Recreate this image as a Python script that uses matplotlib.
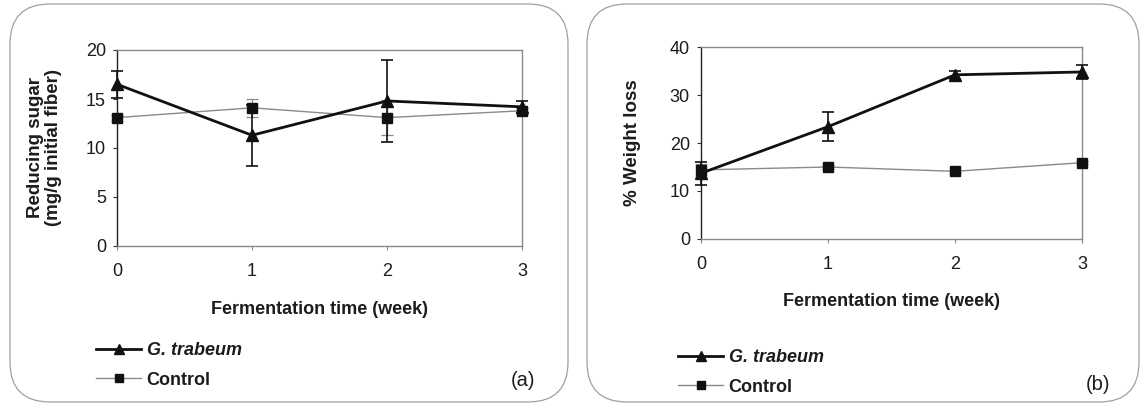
import matplotlib
matplotlib.use("Agg")
import matplotlib.pyplot as plt
from matplotlib.patches import FancyBboxPatch

plt.rcParams['font.family'] = ['Liberation Sans', 'DejaVu Sans']
plt.rcParams['font.size'] = 13

# Données
weeks = [0, 1, 2, 3]

sugar_trabeum = [16.5, 11.3, 14.8, 14.2]
sugar_trabeum_err = [1.4, 3.1, 4.15, 0.6]
sugar_control = [13.1, 14.1, 13.1, 13.8]
sugar_control_err = [0.3, 0.95, 1.8, 0.3]

loss_trabeum = [13.7, 23.4, 34.2, 34.8]
loss_trabeum_err = [2.35, 3.05, 0.9, 1.5]
loss_control = [14.4, 15.0, 14.1, 15.9]
loss_control_err = [1.2, 0.5, 0.3, 0.3]

TXT = "#1c1c1c"
GREY = "#8a8a8a"

fig = plt.figure(figsize=(11.41, 4.12), dpi=100)

# cadres arrondis
for x0, w in [(10, 558), (587, 552)]:
    box = FancyBboxPatch((x0 / 1141, 10 / 412), w / 1141, 398 / 412,
                         boxstyle="round,pad=0,rounding_size=0.035",
                         transform=fig.transFigure, fill=False,
                         edgecolor="#a0a0a0", linewidth=0.9,
                         mutation_aspect=1141 / 412)
    fig.add_artist(box)


def panel(rect, yt, yt_err, yc, yc_err, ymax, ystep, ylabel, ylab_x, leg_xy, tag, tag_xy):
    ax = fig.add_axes(rect)
    ax.errorbar(weeks, yc, yerr=yc_err, fmt="none", ecolor=GREY, capsize=4,
                elinewidth=0.9, capthick=0.9, ls=(0, (2, 1)), zorder=2, clip_on=False)
    ax.plot(weeks, yc, color=GREY, lw=1.0, marker="s", ms=6.5, mfc="#111",
            mec="#111", label="Control", zorder=3, clip_on=False)
    ax.errorbar(weeks, yt, yerr=yt_err, fmt="none", ecolor="#111", capsize=4.5,
                elinewidth=1.2, capthick=1.2, zorder=4, clip_on=False)
    ax.plot(weeks, yt, color="#111", lw=2.0, marker="^", ms=8, mfc="#111",
            mec="#111", label="G. trabeum", zorder=5, clip_on=False)

    ax.set_xlim(0, 3)
    ax.set_ylim(0, ymax)
    ax.set_xticks(weeks)
    ax.set_yticks(range(0, ymax + 1, ystep))
    ax.tick_params(axis="x", length=3, color=GREY, pad=9.5, labelcolor=TXT, labelsize=13)
    ax.tick_params(axis="y", length=3, color="#333", pad=5, labelcolor=TXT, labelsize=13)
    for s in ["top", "right", "bottom"]:
        ax.spines[s].set_color(GREY)
        ax.spines[s].set_linewidth(1.0)
    ax.spines["left"].set_color("#222")
    ax.spines["left"].set_linewidth(1.0)

    ax.set_xlabel("Fermentation time (week)", fontweight="bold", color=TXT, fontsize=13)
    ax.xaxis.set_label_coords(0.5, -0.28)
    ax.set_ylabel(ylabel, fontweight="bold", color=TXT, fontsize=13.5, linespacing=1.05)
    ax.yaxis.set_label_coords(ylab_x, 0.5)

    h, l = ax.get_legend_handles_labels()
    leg = fig.legend(h[::-1], l[::-1], loc="center left", bbox_to_anchor=leg_xy,
                     frameon=False, borderpad=0, handlelength=2.5, markerscale=0.85,
                     handletextpad=0.3, labelspacing=0.68, fontsize=13,
                     borderaxespad=0)
    leg.get_texts()[0].set_style("italic")
    for t in leg.get_texts():
        t.set_fontweight("bold")
        t.set_color(TXT)
    fig.text(tag_xy[0], tag_xy[1], tag, ha="center", va="center", color=TXT, fontsize=14.5)
    return ax


panel([117 / 1141, 1 - 246 / 412, 405 / 1141, 196 / 412],
      sugar_trabeum, sugar_trabeum_err, sugar_control, sugar_control_err,
      20, 5, "Reducing sugar\n(mg/g initial fiber)", -0.136,
      (96 / 1141, 1 - 365.5 / 412), "(a)", (523 / 1141, 1 - 381 / 412))

panel([701 / 1141, 1 - 239 / 412, 381 / 1141, 192 / 412],
      loss_trabeum, loss_trabeum_err, loss_control, loss_control_err,
      40, 10, "% Weight loss", -0.157,
      (678 / 1141, 1 - 372.5 / 412), "(b)", (1098 / 1141, 1 - 385 / 412))

fig.savefig("out.png", dpi=100)
